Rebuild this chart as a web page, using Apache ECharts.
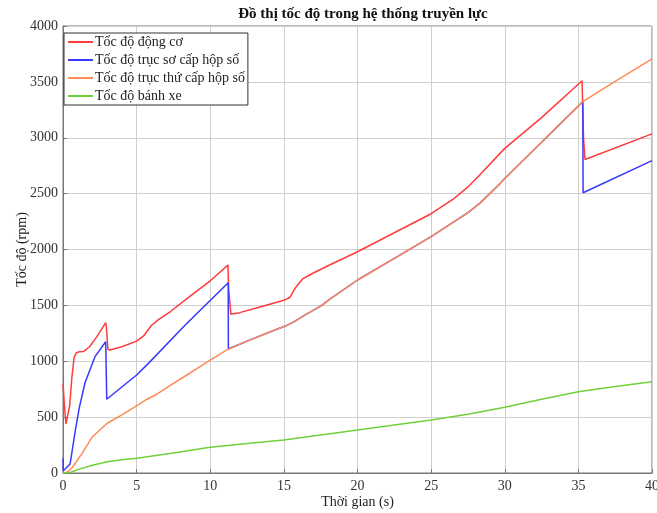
<!DOCTYPE html>
<html><head><meta charset="utf-8">
<script src="https://cdn.jsdelivr.net/npm/echarts@6/dist/echarts.min.js"></script>
<style>html,body{margin:0;padding:0;background:#fff}#c{width:657px;height:513px}</style>
</head><body><div id="c"></div>
<script>
const seriesNames = ['Tốc độ động cơ','Tốc độ trục sơ cấp hộp số','Tốc độ trục thứ cấp hộp số','Tốc độ bánh xe'];
const xTicks = [0,5,10,15,20,25,30,35,40];
const yTicks = [0,500,1000,1500,2000,2500,3000,3500,4000];

const engineT = [0,0.1,0.2,0.3,0.45,0.6,0.75,0.9,1.1,1.4,1.8,2.3,2.9,2.95,3.05,3.2,4.0,5.0,5.5,6.0,6.5,7.3,8.7,10.0,11.2,11.25,11.4,12.0,13.5,15.0,15.4,15.8,16.3,17.0,18.0,20.0,22.5,25.0,26.5,27.5,28.3,30.0,32.5,35.25,35.35,35.45,40];
const engineV = [800,600,440,440,600,850,1030,1075,1085,1088,1130,1220,1345,1300,1105,1100,1130,1180,1230,1320,1375,1445,1590,1720,1860,1650,1420,1435,1490,1545,1570,1660,1740,1790,1855,1980,2150,2320,2450,2560,2667,2905,3180,3510,3000,2805,3035];

const primaryT = [0,0.02,0.48,0.81,1.1,1.49,2.17,2.9,2.97,5.0,5.8,8.3,11.22,11.23,12.5,14.0,15.1,15.7,16.5,17.5,18.1,20.0,22.5,25.0,27.5,28.3,29.7,30.0,32.5,35.3,35.32,40];
const primaryV = [130,20,80,358,580,805,1041,1175,660,877,981,1324,1703,1110,1180,1260,1315,1354,1420,1494,1554,1727,1920,2115,2330,2413,2592,2635,2960,3323,2508,2795];

const secondaryT = [0,0.3,0.6,1.0,1.3,2.0,3.0,4.0,5.0,5.7,6.3,7.0,8.3,10.0,11.1,11.23,12.5,14.0,15.1,15.7,16.5,17.5,18.1,20.0,22.5,25.0,27.5,28.3,29.7,30.0,32.5,35.3,37.5,40];
const secondaryV = [0,8,45,120,176,325,445,520,600,660,700,760,868,1011,1100,1110,1180,1260,1315,1354,1420,1494,1554,1727,1920,2115,2330,2413,2592,2635,2960,3323,3505,3705];

const wheelT = [0,0.5,1.0,2.0,3.0,4.0,5.0,7.5,10.0,12.5,15.0,17.5,20.0,22.5,25.0,27.5,30.0,32.5,35.0,37.5,40];
const wheelV = [0,5,30,70,100,118,131,180,230,265,295,340,385,430,474,525,588,660,728,775,817];

const colors = ['#ff3b3b','#3838ff','#ff8c55','#6fd13a'];
const zip = (t,v)=>t.map((x,i)=>[x,v[i]]);
const dataSets = [zip(engineT,engineV),zip(primaryT,primaryV),zip(secondaryT,secondaryV),zip(wheelT,wheelV)];
const font = 'Liberation Serif';

const chart = echarts.init(document.getElementById('c'));
chart.setOption({
  animation:false,
  backgroundColor:'#fff',
  title:{text:'Đồ thị tốc độ trong hệ thống truyền lực',left:358,top:2,textAlign:'center',
    textStyle:{fontFamily:font,fontWeight:'bold',fontSize:15,color:'#111'}},
  legend:{orient:'vertical',left:64,top:33,data:seriesNames,icon:'rect',itemWidth:25,itemHeight:2,itemGap:4,
    padding:[2,3,2,4],backgroundColor:'#fff',borderColor:'#333',borderWidth:1,borderRadius:0,
    textStyle:{fontFamily:font,fontSize:14,color:'#222',padding:[0,0,0,-3]}},
  grid:{left:63,right:5,top:26,bottom:40,show:true,borderColor:'#777',borderWidth:1,containLabel:false,outerBoundsMode:'none'},
  xAxis:{type:'value',min:0,max:40,interval:5,name:'Thời gian (s)',nameLocation:'middle',nameGap:22,nameMoveOverlap:false,
    nameTextStyle:{fontFamily:font,fontSize:14,color:'#222'},
    axisLine:{show:true,lineStyle:{color:'#777'}},axisTick:{show:true,inside:true,length:4,lineStyle:{color:'#777'}},
    axisLabel:{fontFamily:font,fontSize:14,color:'#333',margin:6,formatter:v=>String(v)},
    splitLine:{show:true,lineStyle:{color:'#cfcfcf',width:1}}},
  yAxis:{type:'value',min:0,max:4000,interval:500,name:'Tốc độ (rpm)',nameLocation:'middle',nameGap:34,nameMoveOverlap:false,
    nameTextStyle:{fontFamily:font,fontSize:14,color:'#222'},
    axisLine:{show:true,lineStyle:{color:'#777'}},axisTick:{show:true,inside:true,length:4,lineStyle:{color:'#777'}},
    axisLabel:{fontFamily:font,fontSize:14,color:'#333',margin:5,formatter:v=>String(v)},
    splitLine:{show:true,lineStyle:{color:'#cfcfcf',width:1}}},
  series:seriesNames.map((n,i)=>({name:n,type:'line',data:dataSets[i],showSymbol:false,symbol:'none',
    lineStyle:{color:colors[i],width:1.5},itemStyle:{color:colors[i]},smooth:false}))
});
</script></body></html>
